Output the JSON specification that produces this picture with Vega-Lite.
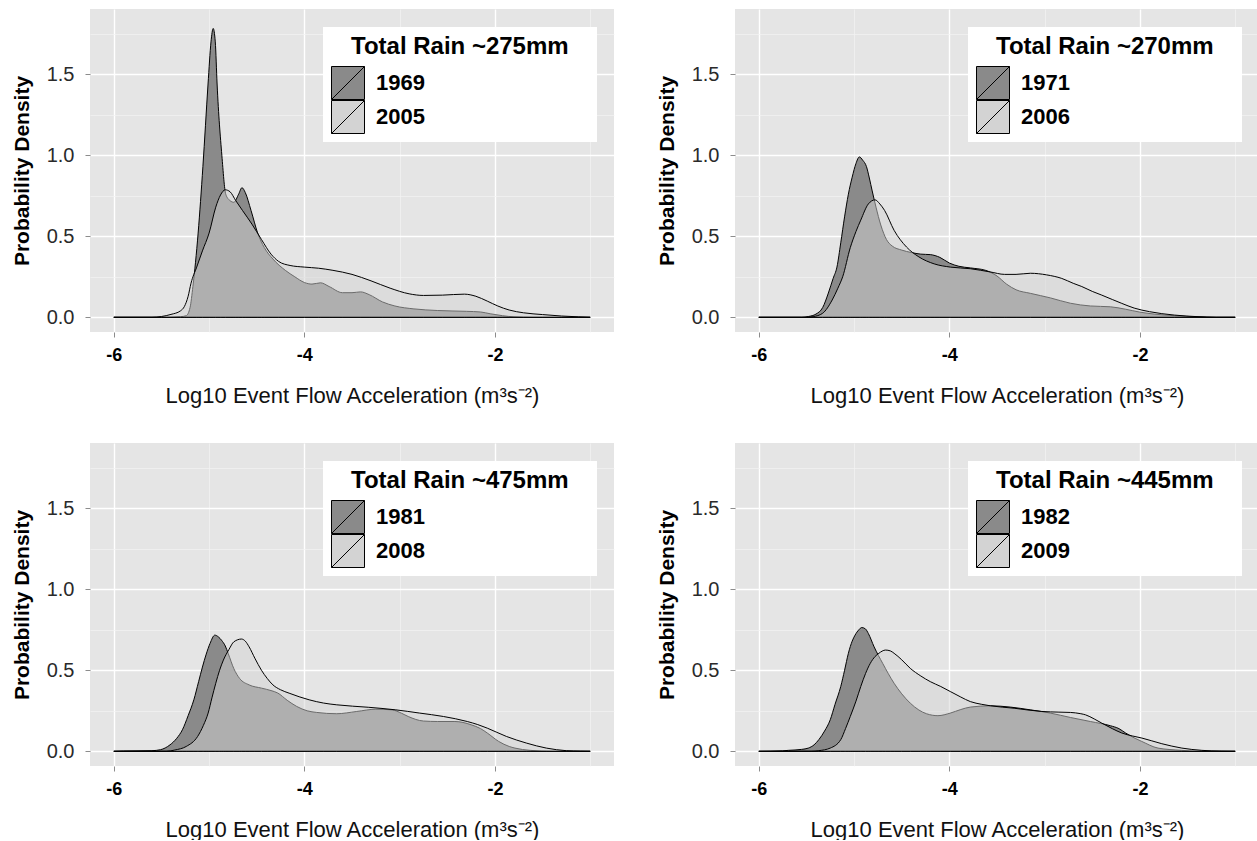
{
  "$schema": "https://vega.github.io/schema/vega-lite/v6.json",
  "padding": {"left": 11, "top": 9, "right": 0, "bottom": 0},
  "background": "white",
  "data": {"values": [
    {"year":"1969","x":-6,"density":0},{"year":"1969","x":-5.5,"density":0},{"year":"1969","x":-5.3,"density":0.004},{"year":"1969","x":-5.24,"density":0.01},{"year":"1969","x":-5.2,"density":0.06},{"year":"1969","x":-5.17,"density":0.19},{"year":"1969","x":-5.115,"density":0.52},{"year":"1969","x":-5.065,"density":0.93},{"year":"1969","x":-5.011,"density":1.44},{"year":"1969","x":-4.98,"density":1.7},{"year":"1969","x":-4.957,"density":1.783},{"year":"1969","x":-4.935,"density":1.7},{"year":"1969","x":-4.916,"density":1.44},{"year":"1969","x":-4.866,"density":1.0},{"year":"1969","x":-4.825,"density":0.76},{"year":"1969","x":-4.78,"density":0.72},{"year":"1969","x":-4.74,"density":0.71},{"year":"1969","x":-4.69,"density":0.76},{"year":"1969","x":-4.655,"density":0.8},{"year":"1969","x":-4.62,"density":0.77},{"year":"1969","x":-4.56,"density":0.66},{"year":"1969","x":-4.49,"density":0.52},{"year":"1969","x":-4.42,"density":0.43},{"year":"1969","x":-4.33,"density":0.36},{"year":"1969","x":-4.2,"density":0.29},{"year":"1969","x":-4.1,"density":0.25},{"year":"1969","x":-4.0,"density":0.215},{"year":"1969","x":-3.92,"density":0.205},{"year":"1969","x":-3.83,"density":0.213},{"year":"1969","x":-3.74,"density":0.19},{"year":"1969","x":-3.6,"density":0.152},{"year":"1969","x":-3.5,"density":0.152},{"year":"1969","x":-3.41,"density":0.157},{"year":"1969","x":-3.32,"density":0.14},{"year":"1969","x":-3.18,"density":0.095},{"year":"1969","x":-3.05,"density":0.07},{"year":"1969","x":-2.85,"density":0.052},{"year":"1969","x":-2.6,"density":0.042},{"year":"1969","x":-2.3,"density":0.037},{"year":"1969","x":-2.15,"density":0.033},{"year":"1969","x":-2.05,"density":0.022},{"year":"1969","x":-1.92,"density":0.01},{"year":"1969","x":-1.8,"density":0.003},{"year":"1969","x":-1.6,"density":0},{"year":"1969","x":-1,"density":0},
    {"year":"2005","x":-6,"density":0},{"year":"2005","x":-5.6,"density":0},{"year":"2005","x":-5.5,"density":0.005},{"year":"2005","x":-5.4,"density":0.018},{"year":"2005","x":-5.3,"density":0.04},{"year":"2005","x":-5.26,"density":0.066},{"year":"2005","x":-5.22,"density":0.13},{"year":"2005","x":-5.19,"density":0.21},{"year":"2005","x":-5.13,"density":0.31},{"year":"2005","x":-5.07,"density":0.41},{"year":"2005","x":-5.0,"density":0.52},{"year":"2005","x":-4.93,"density":0.68},{"year":"2005","x":-4.88,"density":0.755},{"year":"2005","x":-4.83,"density":0.787},{"year":"2005","x":-4.78,"density":0.775},{"year":"2005","x":-4.72,"density":0.72},{"year":"2005","x":-4.65,"density":0.66},{"year":"2005","x":-4.55,"density":0.575},{"year":"2005","x":-4.45,"density":0.48},{"year":"2005","x":-4.35,"density":0.39},{"year":"2005","x":-4.27,"density":0.345},{"year":"2005","x":-4.15,"density":0.32},{"year":"2005","x":-4.0,"density":0.31},{"year":"2005","x":-3.85,"density":0.303},{"year":"2005","x":-3.7,"density":0.29},{"year":"2005","x":-3.5,"density":0.265},{"year":"2005","x":-3.3,"density":0.225},{"year":"2005","x":-3.1,"density":0.18},{"year":"2005","x":-2.9,"density":0.145},{"year":"2005","x":-2.75,"density":0.135},{"year":"2005","x":-2.55,"density":0.137},{"year":"2005","x":-2.32,"density":0.143},{"year":"2005","x":-2.2,"density":0.13},{"year":"2005","x":-2.08,"density":0.1},{"year":"2005","x":-1.97,"density":0.07},{"year":"2005","x":-1.85,"density":0.045},{"year":"2005","x":-1.7,"density":0.028},{"year":"2005","x":-1.5,"density":0.017},{"year":"2005","x":-1.3,"density":0.008},{"year":"2005","x":-1.12,"density":0.003},{"year":"2005","x":-1,"density":0},
    {"year":"1971","x":-6,"density":0},{"year":"1971","x":-5.55,"density":0},{"year":"1971","x":-5.48,"density":0.005},{"year":"1971","x":-5.4,"density":0.02},{"year":"1971","x":-5.33,"density":0.06},{"year":"1971","x":-5.27,"density":0.15},{"year":"1971","x":-5.22,"density":0.24},{"year":"1971","x":-5.18,"density":0.31},{"year":"1971","x":-5.14,"density":0.46},{"year":"1971","x":-5.1,"density":0.62},{"year":"1971","x":-5.06,"density":0.76},{"year":"1971","x":-5.02,"density":0.865},{"year":"1971","x":-4.98,"density":0.95},{"year":"1971","x":-4.945,"density":0.99},{"year":"1971","x":-4.91,"density":0.97},{"year":"1971","x":-4.87,"density":0.93},{"year":"1971","x":-4.84,"density":0.86},{"year":"1971","x":-4.81,"density":0.78},{"year":"1971","x":-4.77,"density":0.68},{"year":"1971","x":-4.72,"density":0.57},{"year":"1971","x":-4.66,"density":0.48},{"year":"1971","x":-4.6,"density":0.44},{"year":"1971","x":-4.5,"density":0.415},{"year":"1971","x":-4.4,"density":0.4},{"year":"1971","x":-4.3,"density":0.39},{"year":"1971","x":-4.2,"density":0.387},{"year":"1971","x":-4.1,"density":0.37},{"year":"1971","x":-4.0,"density":0.335},{"year":"1971","x":-3.9,"density":0.315},{"year":"1971","x":-3.78,"density":0.305},{"year":"1971","x":-3.62,"density":0.29},{"year":"1971","x":-3.5,"density":0.255},{"year":"1971","x":-3.4,"density":0.205},{"year":"1971","x":-3.3,"density":0.17},{"year":"1971","x":-3.15,"density":0.148},{"year":"1971","x":-2.94,"density":0.12},{"year":"1971","x":-2.73,"density":0.087},{"year":"1971","x":-2.52,"density":0.07},{"year":"1971","x":-2.31,"density":0.065},{"year":"1971","x":-2.15,"density":0.05},{"year":"1971","x":-2.0,"density":0.032},{"year":"1971","x":-1.85,"density":0.02},{"year":"1971","x":-1.64,"density":0.01},{"year":"1971","x":-1.4,"density":0.003},{"year":"1971","x":-1.2,"density":0},{"year":"1971","x":-1,"density":0},
    {"year":"2006","x":-6,"density":0},{"year":"2006","x":-5.5,"density":0},{"year":"2006","x":-5.43,"density":0.004},{"year":"2006","x":-5.33,"density":0.025},{"year":"2006","x":-5.23,"density":0.107},{"year":"2006","x":-5.17,"density":0.18},{"year":"2006","x":-5.12,"density":0.25},{"year":"2006","x":-5.04,"density":0.43},{"year":"2006","x":-4.98,"density":0.53},{"year":"2006","x":-4.93,"density":0.6},{"year":"2006","x":-4.85,"density":0.7},{"year":"2006","x":-4.78,"density":0.725},{"year":"2006","x":-4.73,"density":0.7},{"year":"2006","x":-4.68,"density":0.66},{"year":"2006","x":-4.58,"density":0.537},{"year":"2006","x":-4.45,"density":0.434},{"year":"2006","x":-4.32,"density":0.373},{"year":"2006","x":-4.16,"density":0.33},{"year":"2006","x":-3.99,"density":0.31},{"year":"2006","x":-3.78,"density":0.3},{"year":"2006","x":-3.57,"density":0.28},{"year":"2006","x":-3.42,"density":0.265},{"year":"2006","x":-3.3,"density":0.265},{"year":"2006","x":-3.15,"density":0.272},{"year":"2006","x":-2.98,"density":0.262},{"year":"2006","x":-2.82,"density":0.24},{"year":"2006","x":-2.7,"density":0.21},{"year":"2006","x":-2.61,"density":0.19},{"year":"2006","x":-2.5,"density":0.16},{"year":"2006","x":-2.4,"density":0.137},{"year":"2006","x":-2.29,"density":0.11},{"year":"2006","x":-2.19,"density":0.086},{"year":"2006","x":-2.06,"density":0.057},{"year":"2006","x":-1.9,"density":0.035},{"year":"2006","x":-1.64,"density":0.014},{"year":"2006","x":-1.39,"density":0.004},{"year":"2006","x":-1.2,"density":0},{"year":"2006","x":-1,"density":0},
    {"year":"1981","x":-6,"density":0},{"year":"1981","x":-5.9,"density":0.002},{"year":"1981","x":-5.6,"density":0.004},{"year":"1981","x":-5.51,"density":0.01},{"year":"1981","x":-5.41,"density":0.04},{"year":"1981","x":-5.34,"density":0.08},{"year":"1981","x":-5.28,"density":0.133},{"year":"1981","x":-5.22,"density":0.22},{"year":"1981","x":-5.16,"density":0.318},{"year":"1981","x":-5.11,"density":0.43},{"year":"1981","x":-5.07,"density":0.52},{"year":"1981","x":-5.03,"density":0.6},{"year":"1981","x":-4.99,"density":0.666},{"year":"1981","x":-4.94,"density":0.717},{"year":"1981","x":-4.9,"density":0.705},{"year":"1981","x":-4.87,"density":0.686},{"year":"1981","x":-4.83,"density":0.65},{"year":"1981","x":-4.8,"density":0.605},{"year":"1981","x":-4.74,"density":0.51},{"year":"1981","x":-4.68,"density":0.45},{"year":"1981","x":-4.58,"density":0.41},{"year":"1981","x":-4.45,"density":0.39},{"year":"1981","x":-4.35,"density":0.375},{"year":"1981","x":-4.28,"density":0.36},{"year":"1981","x":-4.18,"density":0.315},{"year":"1981","x":-4.08,"density":0.277},{"year":"1981","x":-3.97,"density":0.25},{"year":"1981","x":-3.87,"density":0.24},{"year":"1981","x":-3.66,"density":0.232},{"year":"1981","x":-3.45,"density":0.246},{"year":"1981","x":-3.25,"density":0.26},{"year":"1981","x":-3.08,"density":0.256},{"year":"1981","x":-2.98,"density":0.235},{"year":"1981","x":-2.91,"density":0.215},{"year":"1981","x":-2.75,"density":0.187},{"year":"1981","x":-2.6,"density":0.184},{"year":"1981","x":-2.42,"density":0.184},{"year":"1981","x":-2.25,"density":0.164},{"year":"1981","x":-2.15,"density":0.14},{"year":"1981","x":-2.08,"density":0.113},{"year":"1981","x":-1.96,"density":0.061},{"year":"1981","x":-1.85,"density":0.03},{"year":"1981","x":-1.79,"density":0.02},{"year":"1981","x":-1.63,"density":0.006},{"year":"1981","x":-1.4,"density":0},{"year":"1981","x":-1,"density":0},
    {"year":"2008","x":-6,"density":0},{"year":"2008","x":-5.45,"density":0},{"year":"2008","x":-5.36,"density":0.008},{"year":"2008","x":-5.24,"density":0.03},{"year":"2008","x":-5.12,"density":0.092},{"year":"2008","x":-5.06,"density":0.16},{"year":"2008","x":-5.01,"density":0.236},{"year":"2008","x":-4.97,"density":0.33},{"year":"2008","x":-4.93,"density":0.42},{"year":"2008","x":-4.89,"density":0.5},{"year":"2008","x":-4.85,"density":0.563},{"year":"2008","x":-4.79,"density":0.63},{"year":"2008","x":-4.74,"density":0.676},{"year":"2008","x":-4.66,"density":0.693},{"year":"2008","x":-4.62,"density":0.68},{"year":"2008","x":-4.58,"density":0.645},{"year":"2008","x":-4.52,"density":0.575},{"year":"2008","x":-4.45,"density":0.5},{"year":"2008","x":-4.39,"density":0.45},{"year":"2008","x":-4.33,"density":0.41},{"year":"2008","x":-4.25,"density":0.38},{"year":"2008","x":-4.16,"density":0.359},{"year":"2008","x":-3.95,"density":0.318},{"year":"2008","x":-3.8,"density":0.298},{"year":"2008","x":-3.66,"density":0.287},{"year":"2008","x":-3.33,"density":0.272},{"year":"2008","x":-3.04,"density":0.256},{"year":"2008","x":-2.79,"density":0.236},{"year":"2008","x":-2.54,"density":0.215},{"year":"2008","x":-2.29,"density":0.184},{"year":"2008","x":-2.18,"density":0.165},{"year":"2008","x":-2.08,"density":0.143},{"year":"2008","x":-1.88,"density":0.092},{"year":"2008","x":-1.67,"density":0.051},{"year":"2008","x":-1.46,"density":0.02},{"year":"2008","x":-1.25,"density":0.004},{"year":"2008","x":-1.1,"density":0.001},{"year":"2008","x":-1,"density":0},
    {"year":"1982","x":-6,"density":0},{"year":"1982","x":-5.75,"density":0.003},{"year":"1982","x":-5.69,"density":0.006},{"year":"1982","x":-5.55,"density":0.012},{"year":"1982","x":-5.48,"density":0.02},{"year":"1982","x":-5.42,"density":0.04},{"year":"1982","x":-5.37,"density":0.072},{"year":"1982","x":-5.31,"density":0.125},{"year":"1982","x":-5.25,"density":0.195},{"year":"1982","x":-5.2,"density":0.29},{"year":"1982","x":-5.14,"density":0.4},{"year":"1982","x":-5.1,"density":0.5},{"year":"1982","x":-5.06,"density":0.605},{"year":"1982","x":-5.02,"density":0.68},{"year":"1982","x":-4.99,"density":0.717},{"year":"1982","x":-4.95,"density":0.75},{"year":"1982","x":-4.92,"density":0.764},{"year":"1982","x":-4.88,"density":0.755},{"year":"1982","x":-4.85,"density":0.727},{"year":"1982","x":-4.79,"density":0.645},{"year":"1982","x":-4.7,"density":0.543},{"year":"1982","x":-4.58,"density":0.42},{"year":"1982","x":-4.5,"density":0.355},{"year":"1982","x":-4.41,"density":0.297},{"year":"1982","x":-4.32,"density":0.255},{"year":"1982","x":-4.24,"density":0.232},{"year":"1982","x":-4.12,"density":0.22},{"year":"1982","x":-3.99,"density":0.236},{"year":"1982","x":-3.88,"density":0.258},{"year":"1982","x":-3.78,"density":0.273},{"year":"1982","x":-3.57,"density":0.281},{"year":"1982","x":-3.36,"density":0.273},{"year":"1982","x":-3.15,"density":0.256},{"year":"1982","x":-2.94,"density":0.236},{"year":"1982","x":-2.73,"density":0.209},{"year":"1982","x":-2.52,"density":0.184},{"year":"1982","x":-2.31,"density":0.158},{"year":"1982","x":-2.22,"density":0.14},{"year":"1982","x":-2.15,"density":0.113},{"year":"1982","x":-2.05,"density":0.08},{"year":"1982","x":-1.98,"density":0.061},{"year":"1982","x":-1.81,"density":0.02},{"year":"1982","x":-1.56,"density":0.006},{"year":"1982","x":-1.39,"density":0},{"year":"1982","x":-1,"density":0},
    {"year":"2009","x":-6,"density":0},{"year":"2009","x":-5.45,"density":0},{"year":"2009","x":-5.37,"density":0.004},{"year":"2009","x":-5.25,"density":0.02},{"year":"2009","x":-5.14,"density":0.072},{"year":"2009","x":-5.09,"density":0.14},{"year":"2009","x":-5.04,"density":0.215},{"year":"2009","x":-4.98,"density":0.31},{"year":"2009","x":-4.93,"density":0.4},{"year":"2009","x":-4.88,"density":0.48},{"year":"2009","x":-4.83,"density":0.543},{"year":"2009","x":-4.78,"density":0.585},{"year":"2009","x":-4.74,"density":0.605},{"year":"2009","x":-4.67,"density":0.625},{"year":"2009","x":-4.62,"density":0.62},{"year":"2009","x":-4.58,"density":0.605},{"year":"2009","x":-4.5,"density":0.565},{"year":"2009","x":-4.41,"density":0.512},{"year":"2009","x":-4.3,"density":0.465},{"year":"2009","x":-4.2,"density":0.43},{"year":"2009","x":-4.09,"density":0.4},{"year":"2009","x":-3.99,"density":0.369},{"year":"2009","x":-3.88,"density":0.335},{"year":"2009","x":-3.78,"density":0.307},{"year":"2009","x":-3.66,"density":0.29},{"year":"2009","x":-3.57,"density":0.281},{"year":"2009","x":-3.32,"density":0.266},{"year":"2009","x":-3.03,"density":0.246},{"year":"2009","x":-2.85,"density":0.242},{"year":"2009","x":-2.73,"density":0.24},{"year":"2009","x":-2.62,"density":0.232},{"year":"2009","x":-2.57,"density":0.225},{"year":"2009","x":-2.48,"density":0.2},{"year":"2009","x":-2.4,"density":0.174},{"year":"2009","x":-2.29,"density":0.14},{"year":"2009","x":-2.19,"density":0.113},{"year":"2009","x":-2.08,"density":0.095},{"year":"2009","x":-1.98,"density":0.082},{"year":"2009","x":-1.77,"density":0.047},{"year":"2009","x":-1.56,"density":0.02},{"year":"2009","x":-1.35,"density":0.006},{"year":"2009","x":-1.14,"density":0.001},{"year":"2009","x":-1,"density":0}
  ]},
  "columns": 2,
  "spacing": {"row": 111, "column": 121},
  "bounds": "flush",
  "resolve": {"scale": {"fill": "independent", "x": "independent", "y": "independent"}, "legend": {"fill": "independent"}},
  "concat": [
    {
      "width": 524, "height": 323,
      "layer": [
        {"transform": [{"filter": "datum.year === '1969'"}],
         "mark": {"type": "area", "interpolate": "monotone", "stroke": "black", "strokeWidth": 1, "fillOpacity": 1},
         "encoding": {
           "x": {"field": "x", "type": "quantitative", "scale": {"domain": [-6.25, -0.75], "nice": false, "zero": false},
                 "axis": {"values": [-6,-5,-4,-3,-2,-1], "title": "Log10 Event Flow Acceleration (m³s⁻²)", "labelExpr": "datum.value % 2 === 0 ? '' + datum.value : ''",
                          "tickOpacity": {"condition": {"test": "datum.value % 2 === 0", "value": 1}, "value": 0},
                          "gridColor": {"condition": {"test": "datum.value % 2 === 0", "value": "#ffffff"}, "value": "#f3f3f3"},
                          "gridWidth": {"condition": {"test": "datum.value % 2 === 0", "value": 1.4}, "value": 0.7}}},
           "y": {"field": "density", "type": "quantitative", "scale": {"domain": [-0.0906, 1.903], "nice": false, "zero": false},
                 "axis": {"values": [0,0.25,0.5,0.75,1,1.25,1.5,1.75], "title": "Probability Density", "labelExpr": "datum.value % 0.5 === 0 ? format(datum.value, '.1f') : ''",
                          "tickOpacity": {"condition": {"test": "datum.value % 0.5 === 0", "value": 1}, "value": 0},
                          "gridColor": {"condition": {"test": "datum.value % 0.5 === 0", "value": "#ffffff"}, "value": "#f3f3f3"},
                          "gridWidth": {"condition": {"test": "datum.value % 0.5 === 0", "value": 1.4}, "value": 0.7}}},
           "y2": {"datum": 0},
           "fill": {"field": "year", "type": "nominal", "scale": {"domain": ["1969", "2005"], "range": ["#8a8a8a", "#d3d3d3"]},
                    "legend": {"title": "\u200b\u00a0\u00a0\u00a0Total Rain ~275mm\u00a0\u00a0\u00a0\u200b", "legendX": 233, "legendY": 18}}
         }},
        {"transform": [{"filter": "datum.year === '2005'"}],
         "mark": {"type": "area", "interpolate": "monotone", "stroke": "black", "strokeWidth": 1, "fillOpacity": 0.5},
         "encoding": {
           "x": {"field": "x", "type": "quantitative"},
           "y": {"field": "density", "type": "quantitative"},
           "y2": {"datum": 0},
           "fill": {"field": "year", "type": "nominal"}
         }}
      ]
    },
    {
      "width": 524, "height": 323,
      "layer": [
        {"transform": [{"filter": "datum.year === '1971'"}],
         "mark": {"type": "area", "interpolate": "monotone", "stroke": "black", "strokeWidth": 1, "fillOpacity": 1},
         "encoding": {
           "x": {"field": "x", "type": "quantitative", "scale": {"domain": [-6.25, -0.75], "nice": false, "zero": false},
                 "axis": {"values": [-6,-5,-4,-3,-2,-1], "title": "Log10 Event Flow Acceleration (m³s⁻²)", "labelExpr": "datum.value % 2 === 0 ? '' + datum.value : ''",
                          "tickOpacity": {"condition": {"test": "datum.value % 2 === 0", "value": 1}, "value": 0},
                          "gridColor": {"condition": {"test": "datum.value % 2 === 0", "value": "#ffffff"}, "value": "#f3f3f3"},
                          "gridWidth": {"condition": {"test": "datum.value % 2 === 0", "value": 1.4}, "value": 0.7}}},
           "y": {"field": "density", "type": "quantitative", "scale": {"domain": [-0.0906, 1.903], "nice": false, "zero": false},
                 "axis": {"values": [0,0.25,0.5,0.75,1,1.25,1.5,1.75], "title": "Probability Density", "labelExpr": "datum.value % 0.5 === 0 ? format(datum.value, '.1f') : ''",
                          "tickOpacity": {"condition": {"test": "datum.value % 0.5 === 0", "value": 1}, "value": 0},
                          "gridColor": {"condition": {"test": "datum.value % 0.5 === 0", "value": "#ffffff"}, "value": "#f3f3f3"},
                          "gridWidth": {"condition": {"test": "datum.value % 0.5 === 0", "value": 1.4}, "value": 0.7}}},
           "y2": {"datum": 0},
           "fill": {"field": "year", "type": "nominal", "scale": {"domain": ["1971", "2006"], "range": ["#8a8a8a", "#d3d3d3"]},
                    "legend": {"title": "\u200b\u00a0\u00a0\u00a0Total Rain ~270mm\u00a0\u00a0\u00a0\u200b", "legendX": 233, "legendY": 18}}
         }},
        {"transform": [{"filter": "datum.year === '2006'"}],
         "mark": {"type": "area", "interpolate": "monotone", "stroke": "black", "strokeWidth": 1, "fillOpacity": 0.5},
         "encoding": {
           "x": {"field": "x", "type": "quantitative"},
           "y": {"field": "density", "type": "quantitative"},
           "y2": {"datum": 0},
           "fill": {"field": "year", "type": "nominal"}
         }}
      ]
    },
    {
      "width": 524, "height": 323,
      "layer": [
        {"transform": [{"filter": "datum.year === '1981'"}],
         "mark": {"type": "area", "interpolate": "monotone", "stroke": "black", "strokeWidth": 1, "fillOpacity": 1},
         "encoding": {
           "x": {"field": "x", "type": "quantitative", "scale": {"domain": [-6.25, -0.75], "nice": false, "zero": false},
                 "axis": {"values": [-6,-5,-4,-3,-2,-1], "title": "Log10 Event Flow Acceleration (m³s⁻²)", "labelExpr": "datum.value % 2 === 0 ? '' + datum.value : ''",
                          "tickOpacity": {"condition": {"test": "datum.value % 2 === 0", "value": 1}, "value": 0},
                          "gridColor": {"condition": {"test": "datum.value % 2 === 0", "value": "#ffffff"}, "value": "#f3f3f3"},
                          "gridWidth": {"condition": {"test": "datum.value % 2 === 0", "value": 1.4}, "value": 0.7}}},
           "y": {"field": "density", "type": "quantitative", "scale": {"domain": [-0.0906, 1.903], "nice": false, "zero": false},
                 "axis": {"values": [0,0.25,0.5,0.75,1,1.25,1.5,1.75], "title": "Probability Density", "labelExpr": "datum.value % 0.5 === 0 ? format(datum.value, '.1f') : ''",
                          "tickOpacity": {"condition": {"test": "datum.value % 0.5 === 0", "value": 1}, "value": 0},
                          "gridColor": {"condition": {"test": "datum.value % 0.5 === 0", "value": "#ffffff"}, "value": "#f3f3f3"},
                          "gridWidth": {"condition": {"test": "datum.value % 0.5 === 0", "value": 1.4}, "value": 0.7}}},
           "y2": {"datum": 0},
           "fill": {"field": "year", "type": "nominal", "scale": {"domain": ["1981", "2008"], "range": ["#8a8a8a", "#d3d3d3"]},
                    "legend": {"title": "\u200b\u00a0\u00a0\u00a0Total Rain ~475mm\u00a0\u00a0\u00a0\u200b", "legendX": 233, "legendY": 18}}
         }},
        {"transform": [{"filter": "datum.year === '2008'"}],
         "mark": {"type": "area", "interpolate": "monotone", "stroke": "black", "strokeWidth": 1, "fillOpacity": 0.5},
         "encoding": {
           "x": {"field": "x", "type": "quantitative"},
           "y": {"field": "density", "type": "quantitative"},
           "y2": {"datum": 0},
           "fill": {"field": "year", "type": "nominal"}
         }}
      ]
    },
    {
      "width": 524, "height": 323,
      "layer": [
        {"transform": [{"filter": "datum.year === '1982'"}],
         "mark": {"type": "area", "interpolate": "monotone", "stroke": "black", "strokeWidth": 1, "fillOpacity": 1},
         "encoding": {
           "x": {"field": "x", "type": "quantitative", "scale": {"domain": [-6.25, -0.75], "nice": false, "zero": false},
                 "axis": {"values": [-6,-5,-4,-3,-2,-1], "title": "Log10 Event Flow Acceleration (m³s⁻²)", "labelExpr": "datum.value % 2 === 0 ? '' + datum.value : ''",
                          "tickOpacity": {"condition": {"test": "datum.value % 2 === 0", "value": 1}, "value": 0},
                          "gridColor": {"condition": {"test": "datum.value % 2 === 0", "value": "#ffffff"}, "value": "#f3f3f3"},
                          "gridWidth": {"condition": {"test": "datum.value % 2 === 0", "value": 1.4}, "value": 0.7}}},
           "y": {"field": "density", "type": "quantitative", "scale": {"domain": [-0.0906, 1.903], "nice": false, "zero": false},
                 "axis": {"values": [0,0.25,0.5,0.75,1,1.25,1.5,1.75], "title": "Probability Density", "labelExpr": "datum.value % 0.5 === 0 ? format(datum.value, '.1f') : ''",
                          "tickOpacity": {"condition": {"test": "datum.value % 0.5 === 0", "value": 1}, "value": 0},
                          "gridColor": {"condition": {"test": "datum.value % 0.5 === 0", "value": "#ffffff"}, "value": "#f3f3f3"},
                          "gridWidth": {"condition": {"test": "datum.value % 0.5 === 0", "value": 1.4}, "value": 0.7}}},
           "y2": {"datum": 0},
           "fill": {"field": "year", "type": "nominal", "scale": {"domain": ["1982", "2009"], "range": ["#8a8a8a", "#d3d3d3"]},
                    "legend": {"title": "\u200b\u00a0\u00a0\u00a0Total Rain ~445mm\u00a0\u00a0\u00a0\u200b", "legendX": 233, "legendY": 18}}
         }},
        {"transform": [{"filter": "datum.year === '2009'"}],
         "mark": {"type": "area", "interpolate": "monotone", "stroke": "black", "strokeWidth": 1, "fillOpacity": 0.5},
         "encoding": {
           "x": {"field": "x", "type": "quantitative"},
           "y": {"field": "density", "type": "quantitative"},
           "y2": {"datum": 0},
           "fill": {"field": "year", "type": "nominal"}
         }}
      ]
    }
  ],
  "config": {
    "font": "Liberation Sans",
    "view": {"fill": "#e5e5e5", "stroke": null},
    "axis": {"domain": false, "grid": true, "tickSize": 5, "tickColor": "#8c8c8c", "tickWidth": 1, "labelOverlap": false, "labelFlush": false, "labelBound": false, "titleColor": "#000000"},
    "axisX": {"labelFontSize": 18, "labelFontWeight": "bold", "labelColor": "#000000", "labelPadding": 9, "titleFontSize": 22, "titleFontWeight": "normal", "titlePadding": 21, "titleColor": "#111111"},
    "axisY": {"labelFontSize": 20, "labelFontWeight": "normal", "labelColor": "#2a2a2a", "labelPadding": 11, "titleFontSize": 21, "titleFontWeight": "bold", "titlePadding": 14},
    "legend": {"orient": "none", "fillColor": "#ffffff", "padding": 8, "titleFontSize": 24, "titleFontWeight": "bold", "titleColor": "#000000", "titleAnchor": "start", "titlePadding": 7, "titleLimit": 600,
               "symbolType": "M-1,-1H1V1H-1Z M-1,1L1,-1", "symbolSize": 1089, "symbolStrokeColor": "#000000", "symbolStrokeWidth": 1, "symbolOpacity": 1, "clipHeight": 34,
               "labelFontSize": 22, "labelFontWeight": "bold", "labelColor": "#000000", "labelOffset": 11, "rowPadding": -1}
  }
}
